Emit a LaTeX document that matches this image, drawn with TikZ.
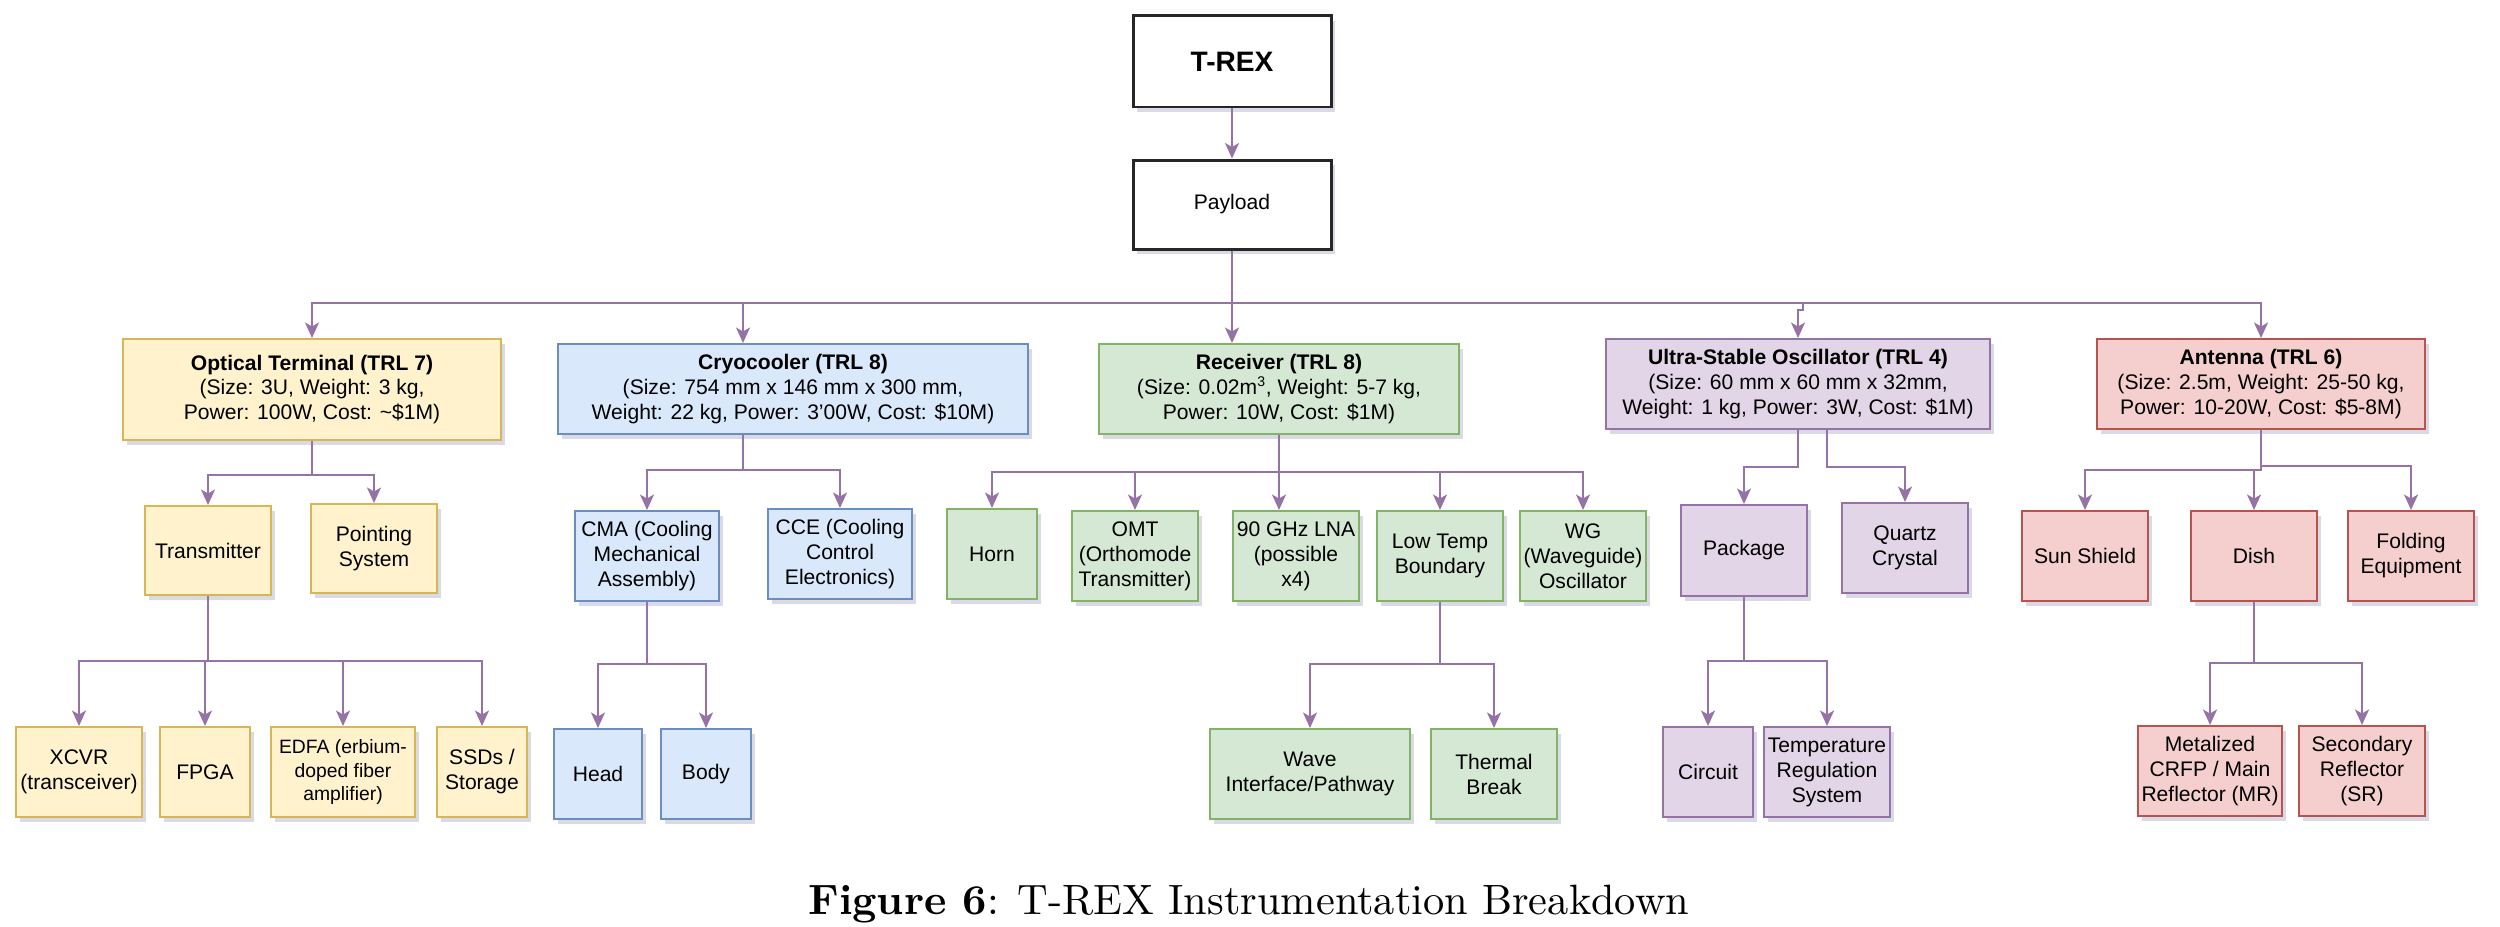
\documentclass[tikz,border=0pt]{standalone}
\usepackage{fontspec}
\usepackage{graphicx}
\usetikzlibrary{arrows.meta,shadows}
\newfontfamily\lsans{Liberation Sans}
\definecolor{yelF}{HTML}{FFF2CC}\definecolor{yelD}{HTML}{D6B656}
\definecolor{bluF}{HTML}{DAE8FC}\definecolor{bluD}{HTML}{6C8EBF}
\definecolor{grnF}{HTML}{D5E8D4}\definecolor{grnD}{HTML}{82B366}
\definecolor{purF}{HTML}{E1D5E7}\definecolor{purD}{HTML}{9673A6}
\definecolor{redF}{HTML}{F5CFCD}\definecolor{redD}{HTML}{B85450}
\definecolor{shadC}{HTML}{6E6E9E}
\begin{document}
\begin{tikzpicture}[x=0.02cm,y=-0.02cm,
  base/.style={draw, rectangle, align=center, inner xsep=1pt, inner ysep=1pt,
    line width=0.04cm, font=\lsans\fontsize{12}{14.2}\selectfont,
    drop shadow={shadow xshift=2pt, shadow yshift=-3pt, opacity=0.25, fill=shadC}},
  sz/.style 2 args={minimum width=#1*0.02cm, minimum height=#2*0.02cm},
  blk/.style={base, fill=white, draw=black!85, line width=0.06cm},
  yel/.style={base, fill=yelF, draw=yelD},
  blu/.style={base, fill=bluF, draw=bluD},
  grn/.style={base, fill=grnF, draw=grnD},
  pur/.style={base, fill=purF, draw=purD},
  red/.style={base, fill=redF, draw=redD},
  conn/.style={draw=purD, line width=0.04cm, -{Stealth[length=0.31cm, width=0.28cm, inset=0.08cm]}}
]
\fill[white] (0,0) rectangle (2500,926);
\useasboundingbox (0,0) rectangle (2500,926);

% level 0/1
\node[blk, sz={198}{91}, font=\lsans\bfseries\fontsize{16}{19}\selectfont] (TR) at (1232,61.5) {T-REX};
\node[blk, sz={198}{89}] (Pay) at (1232,204.5) {Payload};

% level 2
\node[yel, sz={378}{101}] (Opt) at (312,389.5) {\textbf{Optical Terminal (TRL 7)}\\(Size: 3U, Weight: 3 kg,\\Power: 100W, Cost: \textasciitilde\$1M)};
\node[blu, sz={470}{90}] (Cry) at (793,389) {\textbf{Cryocooler (TRL 8)}\\(Size: 754 mm x 146 mm x 300 mm,\\Weight: 22 kg, Power: 3’00W, Cost: \$10M)};
\node[grn, sz={360}{90}] (Rec) at (1279,389) {\textbf{Receiver (TRL 8)}\\(Size: 0.02m\textsuperscript{3}, Weight: 5-7 kg,\\Power: 10W, Cost: \$1M)};
\node[pur, sz={384}{90}] (USO) at (1798,384) {\textbf{Ultra-Stable Oscillator (TRL 4)}\\(Size: 60 mm x 60 mm x 32mm,\\Weight: 1 kg, Power: 3W, Cost: \$1M)};
\node[red, sz={328}{90}] (Ant) at (2261,384) {\textbf{Antenna (TRL 6)}\\(Size: 2.5m, Weight: 25-50 kg,\\Power: 10-20W, Cost: \$5-8M)};

% level 3
\node[yel, sz={126}{89}] (Tx) at (208,550.5) {Transmitter};
\node[yel, sz={126}{89}] (Pt) at (374,548.5) {Pointing\\System};
\node[blu, sz={144}{90}] (CMA) at (647,556) {CMA (Cooling\\Mechanical\\Assembly)};
\node[blu, sz={144}{90}] (CCE) at (840,554) {CCE (Cooling\\Control\\Electronics)};
\node[grn, sz={90}{90}] (Horn) at (992,554) {Horn};
\node[grn, sz={126}{90}] (OMT) at (1135,556) {OMT\\(Orthomode\\Transmitter)};
\node[grn, sz={126}{90}] (LNA) at (1296,556) {90 GHz LNA\\(possible\\x4)};
\node[grn, sz={126}{90}] (LT) at (1440,556) {Low Temp\\Boundary};
\node[grn, sz={126}{90}] (WG) at (1583,556) {WG\\(Waveguide)\\Oscillator};
\node[pur, sz={126}{91}] (Pkg) at (1744,550.5) {Package};
\node[pur, sz={126}{90}] (Qz) at (1905,548) {Quartz\\Crystal};
\node[red, sz={126}{90}] (Sun) at (2085,556) {Sun Shield};
\node[red, sz={126}{90}] (Dish) at (2254,556) {Dish};
\node[red, sz={126}{90}] (Fold) at (2411,556) {Folding\\Equipment};

% level 4
\node[yel, sz={126}{90}] (XC) at (79,772) {XCVR\\(transceiver)};
\node[yel, sz={90}{90}] (FP) at (205,772) {FPGA};
\node[yel, sz={144}{90}, font=\lsans\fontsize{11}{13.2}\selectfont] (ED) at (343,772) {EDFA (erbium-\\doped fiber\\amplifier)};
\node[yel, sz={90}{90}] (SSD) at (482,772) {SSDs /\\Storage};
\node[blu, sz={88}{90}] (Head) at (598,774) {Head};
\node[blu, sz={90}{90}] (Body) at (706,774) {Body};
\node[grn, sz={200}{90}] (Wave) at (1310,774) {Wave\\Interface/Pathway};
\node[grn, sz={126}{90}] (Th) at (1494,774) {Thermal\\Break};
\node[pur, sz={90}{90}] (Circ) at (1708,772) {Circuit};
\node[pur, sz={126}{90}] (TReg) at (1827,772) {Temperature\\Regulation\\System};
\node[red, sz={144}{90}] (Met) at (2210,771) {Metalized\\CRFP / Main\\Reflector (MR)};
\node[red, sz={126}{90}] (Sec) at (2362,771) {Secondary\\Reflector\\(SR)};

% connectors
\draw[conn] (TR.south) -- (Pay.north);
\draw[conn] (Pay.south) |- (Opt.north |- 0,303) -- (Opt.north);
\draw[conn] (Pay.south) |- (743,303) -- (743,0 |- Cry.north);
\draw[conn] (Pay.south) -- (Pay.south |- Rec.north);
\draw[conn] (Pay.south) |- (1803,303) -- (1803,310) -| (USO.north);
\draw[conn] (Pay.south) |- (Ant.north |- 0,303) -- (Ant.north);

\draw[conn] (Opt.south) |- (Tx.north |- 0,475) -- (Tx.north);
\draw[conn] (Opt.south) |- (Pt.north |- 0,475) -- (Pt.north);

\coordinate (cryS) at (743,0 |- Cry.south);
\draw[conn] (cryS) |- (CMA.north |- 0,470) -- (CMA.north);
\draw[conn] (cryS) |- (CCE.north |- 0,470) -- (CCE.north);

\draw[conn] (Rec.south) |- (Horn.north |- 0,472) -- (Horn.north);
\draw[conn] (Rec.south) |- (OMT.north |- 0,472) -- (OMT.north);
\draw[conn] (Rec.south) -- (Rec.south |- LNA.north);
\draw[conn] (Rec.south) |- (LT.north |- 0,472) -- (LT.north);
\draw[conn] (Rec.south) |- (WG.north |- 0,472) -- (WG.north);

\coordinate (usoR) at (1827,0 |- USO.south);
\draw[conn] (USO.south) |- (Pkg.north |- 0,467) -- (Pkg.north);
\draw[conn] (usoR) |- (Qz.north |- 0,467) -- (Qz.north);

\draw[conn] (Ant.south) |- (Sun.north |- 0,470) -- (Sun.north);
\draw[conn] (Ant.south) |- (Dish.north |- 0,470) -- (Dish.north);
\draw[conn] (Ant.south) |- (Fold.north |- 0,466) -- (Fold.north);

\draw[conn] (Tx.south) |- (XC.north |- 0,661) -- (XC.north);
\draw[conn] (Tx.south) |- (FP.north |- 0,661) -- (FP.north);
\draw[conn] (Tx.south) |- (ED.north |- 0,661) -- (ED.north);
\draw[conn] (Tx.south) |- (SSD.north |- 0,661) -- (SSD.north);

\draw[conn] (CMA.south) |- (Head.north |- 0,664) -- (Head.north);
\draw[conn] (CMA.south) |- (Body.north |- 0,664) -- (Body.north);

\draw[conn] (LT.south) |- (Wave.north |- 0,664) -- (Wave.north);
\draw[conn] (LT.south) |- (Th.north |- 0,664) -- (Th.north);

\draw[conn] (Pkg.south) |- (Circ.north |- 0,661) -- (Circ.north);
\draw[conn] (Pkg.south) |- (TReg.north |- 0,661) -- (TReg.north);

\draw[conn] (Dish.south) |- (Met.north |- 0,663) -- (Met.north);
\draw[conn] (Dish.south) |- (Sec.north |- 0,663) -- (Sec.north);

% caption
\node[anchor=base west, inner sep=0pt, font=\rmfamily] (cap) at (808,914)
  {\resizebox{17.62cm}{!}{\textbf{Figure 6}: T-REX Instrumentation Breakdown}};
\end{tikzpicture}
\end{document}
